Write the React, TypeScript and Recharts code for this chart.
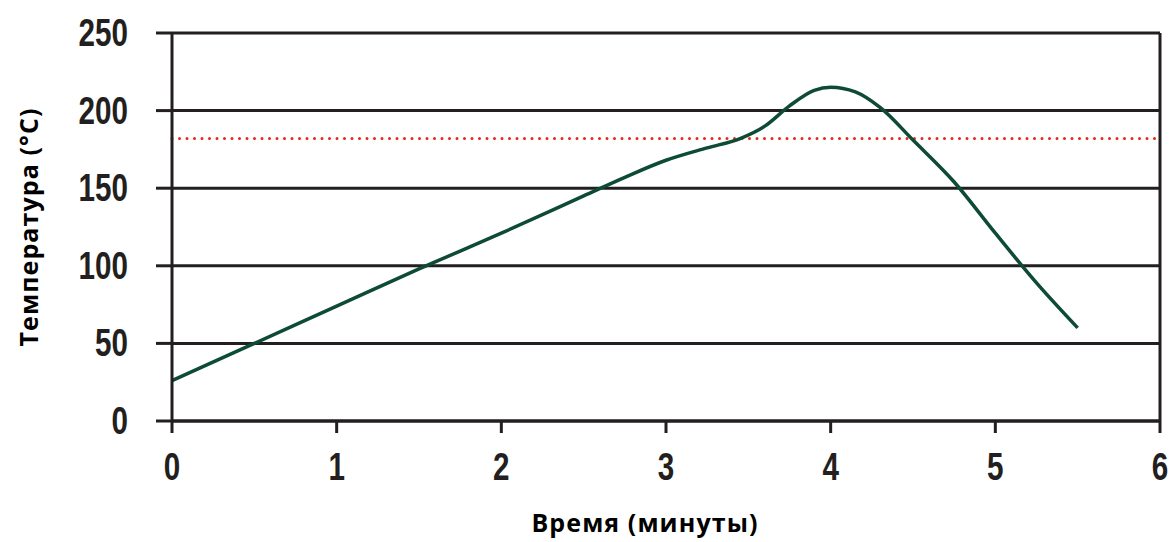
import React from 'react';
import { LineChart, Line, XAxis, YAxis, CartesianGrid, ReferenceLine } from 'recharts';

const minutes = [0, 0.5, 1, 1.5, 2, 2.5, 2.75, 3, 3.25, 3.45, 3.6, 3.75, 3.9, 4, 4.15, 4.3, 4.5, 4.75, 5, 5.25, 5.5];
const temperature = [26, 50, 74, 98, 121, 145, 157, 168, 176, 182, 190, 203, 213, 215, 212, 202, 181, 154, 121, 89, 60];
const xTicks = [0, 1, 2, 3, 4, 5, 6];
const yTicks = [0, 50, 100, 150, 200, 250];
const threshold = 182;

const data = minutes.map((m, i) => ({ t: m, temp: temperature[i] }));

const INK = '#231f20';
const titleFont = { fontFamily: '"Open Sans", "Noto Sans", sans-serif', fontWeight: 700, fontSize: 25, letterSpacing: 1.1, fill: '#000' };

// narrow bold digits, squeezed horizontally
const NarrowTick = (props: any) => {
  const { x, y, payload, textAnchor, axis } = props;
  const dy = axis === 'x' ? 27 : 13;
  return (
    <text
      transform={`translate(${x},${y + dy}) scale(0.78,1)`}
      textAnchor={textAnchor}
      fontFamily='"Liberation Sans", Arial, sans-serif'
      fontWeight={700}
      fontSize={38}
      fill={INK}
    >
      {payload.value}
    </text>
  );
};

const App: React.FC = () => {
  return (
    <div style={{ position: 'absolute', left: 0, top: 0, background: '#fff' }}>
      <LineChart width={1170} height={542} data={data} margin={{ top: 33, right: 10, bottom: 0, left: 0 }}>
        <CartesianGrid horizontal vertical={false} stroke={INK} strokeWidth={3} strokeOpacity={1} />
        <XAxis
          dataKey="t"
          type="number"
          domain={[0, 6]}
          ticks={xTicks}
          height={121}
          tickSize={12}
          tickMargin={20}
          axisLine={{ stroke: INK, strokeWidth: 3 }}
          tickLine={{ stroke: INK, strokeWidth: 3 }}
          tick={(p: any) => <NarrowTick {...p} axis="x" />}
          label={{ value: 'Время (минуты)', position: 'insideBottom', offset: 10, dx: -21, style: titleFont }}
        />
        <YAxis
          type="number"
          domain={[0, 250]}
          ticks={yTicks}
          width={172}
          tickSize={16}
          tickMargin={28}
          axisLine={{ stroke: INK, strokeWidth: 3 }}
          tickLine={{ stroke: INK, strokeWidth: 3 }}
          tick={(p: any) => <NarrowTick {...p} axis="y" />}
          label={{ value: 'Температура (°C)', angle: -90, position: 'insideLeft', offset: 29, style: { ...titleFont, textAnchor: 'middle' } }}
        />
        <ReferenceLine x={6} stroke={INK} strokeWidth={3} />
        <ReferenceLine y={threshold} stroke="#e8261c" strokeWidth={3} strokeDasharray="0 7.5" strokeLinecap="round" />
        <Line
          type="monotone"
          dataKey="temp"
          stroke="#0d4b37"
          strokeWidth={3.5}
          dot={false}
          isAnimationActive={false}
        />
      </LineChart>
    </div>
  );
};

export default App;
